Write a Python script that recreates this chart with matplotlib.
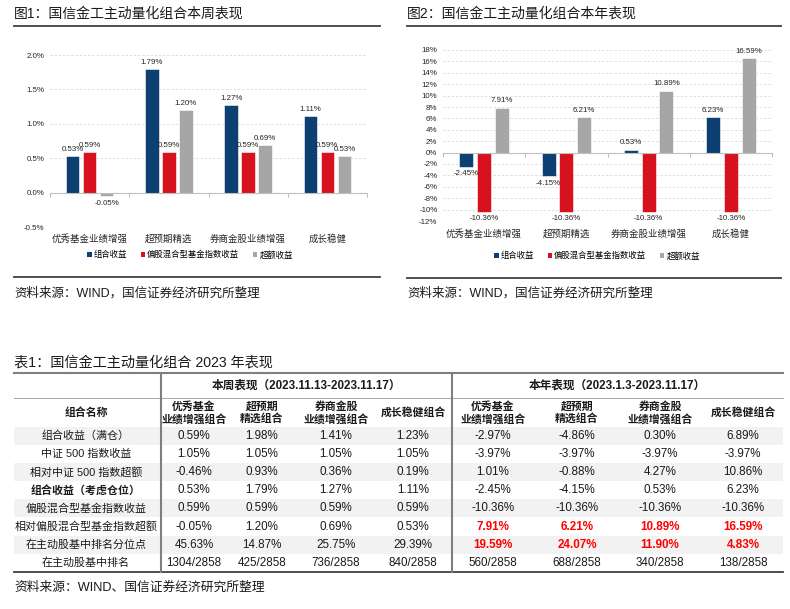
import matplotlib
matplotlib.use("Agg")
import matplotlib.pyplot as plt
import matplotlib.transforms as mtransforms
from matplotlib.patches import Rectangle, Patch
import numpy as np

plt.rcParams['font.family'] = ['Liberation Sans', 'Noto Sans CJK SC', 'DejaVu Sans']
plt.rcParams['axes.unicode_minus'] = False

# ---------------- data ----------------
categories = ['优秀基金业绩增强', '超预期精选', '券商金股业绩增强', '成长稳健']
series_names = ['组合收益', '偏股混合型基金指数收益', '超额收益']

week_portfolio = [0.53, 1.79, 1.27, 1.11]
week_index = [0.59, 0.59, 0.59, 0.59]
week_excess = [-0.05, 1.20, 0.69, 0.53]

year_portfolio = [-2.45, -4.15, 0.53, 6.23]
year_index = [-10.36, -10.36, -10.36, -10.36]
year_excess = [7.91, 6.21, 10.89, 16.59]

week_yticks = [-0.5, 0.0, 0.5, 1.0, 1.5, 2.0]
year_yticks = [-12, -10, -8, -6, -4, -2, 0, 2, 4, 6, 8, 10, 12, 14, 16, 18]

table_col_names = ['优秀基金\n业绩增强组合', '超预期\n精选组合', '券商金股\n业绩增强组合', '成长稳健组合']
table_row_names = ['组合收益（满仓）', '中证 500 指数收益', '相对中证 500 指数超额',
                   '组合收益（考虑仓位）', '偏股混合型基金指数收益', '相对偏股混合型基金指数超额',
                   '在主动股基中排名分位点', '在主动股基中排名']
table_week = [
    ['0.59%', '1.98%', '1.41%', '1.23%'],
    ['1.05%', '1.05%', '1.05%', '1.05%'],
    ['-0.46%', '0.93%', '0.36%', '0.19%'],
    ['0.53%', '1.79%', '1.27%', '1.11%'],
    ['0.59%', '0.59%', '0.59%', '0.59%'],
    ['-0.05%', '1.20%', '0.69%', '0.53%'],
    ['45.63%', '14.87%', '25.75%', '29.39%'],
    ['1304/2858', '425/2858', '736/2858', '840/2858'],
]
table_year = [
    ['-2.97%', '-4.86%', '0.30%', '6.89%'],
    ['-3.97%', '-3.97%', '-3.97%', '-3.97%'],
    ['1.01%', '-0.88%', '4.27%', '10.86%'],
    ['-2.45%', '-4.15%', '0.53%', '6.23%'],
    ['-10.36%', '-10.36%', '-10.36%', '-10.36%'],
    ['7.91%', '6.21%', '10.89%', '16.59%'],
    ['19.59%', '24.07%', '11.90%', '4.83%'],
    ['560/2858', '688/2858', '340/2858', '138/2858'],
]

# ---------------- style ----------------
BLUE = '#0C3F72'
RED = '#D7121E'
GRAY = '#A6A6A6'
colors = [BLUE, RED, GRAY]
W, H = 790, 609

fig = plt.figure(figsize=(W / 100, H / 100), dpi=100)
fig.patch.set_facecolor('white')

ov = fig.add_axes([0, 0, 1, 1])
ov.set_xlim(0, W)
ov.set_ylim(H, 0)
ov.axis('off')


def px_axes(x0, x1, y0, y1):
    return fig.add_axes([x0 / W, 1 - y1 / H, (x1 - x0) / W, (y1 - y0) / H])


def bar_chart(ax, series, yticks, fmt, ylim, cat_y, legend_center, lbl_fs):
    x = np.arange(len(categories))
    bw = 0.17
    step = 0.215
    for k, vals in enumerate(series):
        xs = x + (k - 1) * step
        bars = ax.bar(xs, vals, width=bw, color=colors[k], edgecolor='white', linewidth=0.4, zorder=3)
        for b, v in zip(bars, vals):
            if v >= 0:
                ax.annotate(f'{v:.2f}%', (b.get_x() + b.get_width() / 2, v), xytext=(0, 2.5),
                            textcoords='offset points', ha='center', va='bottom', fontsize=lbl_fs,
                            color='#262626', zorder=5)
            else:
                ax.annotate(f'{v:.2f}%', (b.get_x() + b.get_width() / 2, v), xytext=(0, -2.5),
                            textcoords='offset points', ha='center', va='top', fontsize=lbl_fs,
                            color='#262626', zorder=5)
    ax.set_xlim(-0.5, len(categories) - 0.5)
    ax.set_ylim(*ylim)
    ax.set_yticks(yticks)
    ax.set_yticklabels([fmt(t) for t in yticks], fontsize=lbl_fs, color='#262626')
    ax.tick_params(axis='y', length=0, pad=4)
    ax.yaxis.grid(True, linestyle=(0, (3, 2)), color='#D9D9D9', linewidth=0.6, zorder=0)
    for s in ['top', 'right', 'left']:
        ax.spines[s].set_visible(False)
    ax.spines['bottom'].set_position(('data', 0))
    ax.spines['bottom'].set_color('#BFBFBF')
    ax.spines['bottom'].set_linewidth(0.8)
    ax.spines['bottom'].set_zorder(4)
    ax.set_xticks(np.arange(len(categories) + 1) - 0.5)
    ax.set_xticklabels([])
    ax.tick_params(axis='x', length=3, color='#BFBFBF', width=0.8, direction='out')
    ax.set_facecolor('none')
    tr = mtransforms.blended_transform_factory(ax.transData, ov.transData)
    for i, c in enumerate(categories):
        ax.text(i, cat_y, c, transform=tr, ha='center', va='center', fontsize=6.8,
                color='#262626', clip_on=False)
    handles = [Patch(facecolor=colors[k], edgecolor='none') for k in range(3)]
    fig.legend(handles, series_names, loc='center',
               bbox_to_anchor=(legend_center[0] / W, 1 - legend_center[1] / H),
               ncol=3, frameon=False, fontsize=6, handlelength=0.55, handleheight=0.55,
               handletextpad=0.25, columnspacing=1.6, borderaxespad=0, borderpad=0)


# ---------- chart 1 ----------
ov.text(14, 14, '图1：国信金工主动量化组合本周表现', fontsize=10, ha='left', va='center', color='#1a1a1a')
ov.plot([14, 380], [25.5, 25.5], color='#404040', lw=1.3)
ax1 = px_axes(50, 367, 55, 227)
bar_chart(ax1, [week_portfolio, week_index, week_excess], week_yticks,
          lambda t: f'{t:.1f}%', (-0.5, 2.0), 239, (190, 255), 5.7)
ov.plot([14, 380], [277, 277], color='#404040', lw=1.3)
ov.text(14, 293, '资料来源：WIND，国信证券经济研究所整理', fontsize=9, ha='left', va='center', color='#1a1a1a')

# ---------- chart 2 ----------
ov.text(407, 14, '图2：国信金工主动量化组合本年表现', fontsize=10, ha='left', va='center', color='#1a1a1a')
ov.plot([407, 781], [25.5, 25.5], color='#404040', lw=1.3)
ax2 = px_axes(443, 772, 50, 221)
bar_chart(ax2, [year_portfolio, year_index, year_excess], year_yticks,
          lambda t: f'{t:d}%', (-12, 18), 234, (597, 256), 5.7)
ov.plot([407, 781], [278, 278], color='#404040', lw=1.3)
ov.text(407, 293, '资料来源：WIND，国信证券经济研究所整理', fontsize=9, ha='left', va='center', color='#1a1a1a')

# ---------- table ----------
ov.text(14, 362, '表1：国信金工主动量化组合 2023 年表现', fontsize=10.2, ha='left', va='center', color='#1a1a1a')
TL, TR = 14, 783
top, h1, h2 = 373, 398, 426.5
row_h = (572 - h2) / len(table_row_names)
for i in range(len(table_row_names)):
    if i % 2 == 0:
        ov.add_patch(Rectangle((TL, h2 + i * row_h), TR - TL, row_h, facecolor='#F2F2F2',
                               edgecolor='none', zorder=0))
ov.plot([TL, TR], [top, top], color='#7F7F7F', lw=1.5, zorder=3)
ov.plot([TL, TR], [h1, h1], color='#A6A6A6', lw=0.7, zorder=3)
ov.plot([TL, TR], [572, 572], color='#404040', lw=1.3, zorder=3)
for vx in (161, 452):
    ov.plot([vx, vx], [top, 572], color='#7F7F7F', lw=1.5, zorder=3)

ov.text(306, (top + h1) / 2, '本周表现（2023.11.13-2023.11.17）', fontsize=8.4, fontweight='bold',
        ha='center', va='center', color='#1a1a1a')
ov.text(617, (top + h1) / 2, '本年表现（2023.1.3-2023.11.17）', fontsize=8.4, fontweight='bold',
        ha='center', va='center', color='#1a1a1a')

week_x = [194, 262, 336, 413]
year_x = [493, 577, 660, 743]
label_x = 86
ov.text(label_x, (h1 + h2) / 2, '组合名称', fontsize=7.8, fontweight='bold', ha='center', va='center',
        color='#1a1a1a')
for cx_list in (week_x, year_x):
    for cx, name in zip(cx_list, table_col_names):
        ov.text(cx, (h1 + h2) / 2 + 0.5, name, fontsize=7.8, fontweight='bold', ha='center', va='center',
                linespacing=1.15, color='#1a1a1a')

red_rows = {5, 6}
for i, rname in enumerate(table_row_names):
    cy = h2 + (i + 0.5) * row_h
    ov.text(label_x, cy, rname, fontsize=7.9, ha='center', va='center', color='#1a1a1a',
            fontweight='bold' if i == 3 else 'normal')
    for cx, val in zip(week_x, table_week[i]):
        ov.text(cx, cy, val, fontsize=8.4, ha='center', va='center', color='#1a1a1a')
    for cx, val in zip(year_x, table_year[i]):
        if i in red_rows:
            ov.text(cx, cy, val, fontsize=8.4, ha='center', va='center', color='#FF0000', fontweight='bold')
        else:
            ov.text(cx, cy, val, fontsize=8.4, ha='center', va='center', color='#1a1a1a')

ov.text(14, 588, '资料来源：WIND、国信证券经济研究所整理', fontsize=9.2, ha='left', va='center', color='#1a1a1a')

fig.savefig('out.png', dpi=100)
